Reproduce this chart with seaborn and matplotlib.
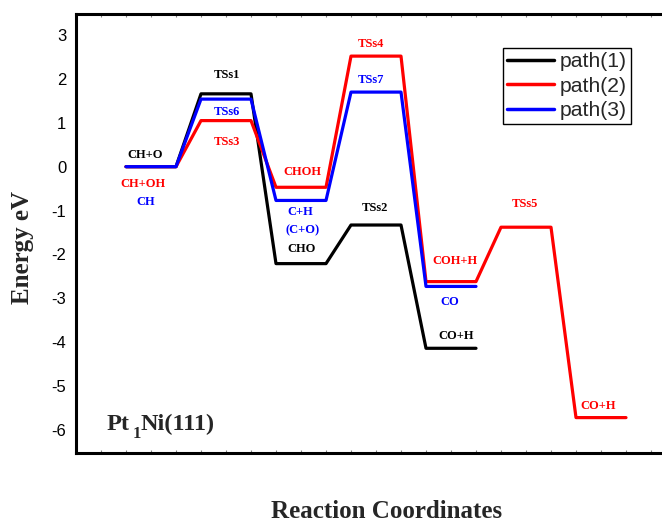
import pandas as pd
import seaborn as sns
import matplotlib.pyplot as plt

# energy of every level (eV), in order along the reaction coordinate
paths = ['path(1)', 'path(2)', 'path(3)']
energy_path1 = [0.0, 1.66, -2.21, -1.33, -4.14]
energy_path2 = [0.0, 1.05, -0.47, 2.52, -2.62, -1.38, -5.72]
energy_path3 = [0.0, 1.54, -0.77, 1.70, -2.73]
path_colors = ['black', 'red', 'blue']

# species / transition-state labels: text, colour, x, y (data coords)
label_text = ['CH+O', 'CH+OH', 'CH', 'TSs1', 'TSs6', 'TSs3', 'CHOH', 'C+H', '(C+O)',
              'CHO', 'TSs4', 'TSs7', 'TSs2', 'TSs5', 'COH+H', 'CO', 'CO+H', 'CO+H']
label_color = ['black', 'red', 'blue', 'black', 'blue', 'red', 'red', 'blue', 'blue',
               'black', 'red', 'blue', 'black', 'red', 'red', 'blue', 'black', 'red']
label_x = [2.76, 2.68, 2.8, 6.04, 6.04, 6.04, 9.04, 8.96, 9.08,
           9.04, 11.8, 11.8, 11.96, 17.96, 15.16, 14.96, 15.2, 20.88]
label_y = [0.27, -0.39, -0.80, 2.09, 1.25, 0.56, -0.12, -1.03, -1.44,
           -1.87, 2.80, 1.98, -0.94, -0.85, -2.15, -3.08, -3.85, -5.45]

rows = []
for name, energies in zip(paths, [energy_path1, energy_path2, energy_path3]):
    for i, e in enumerate(energies):
        rows.append((name, 2 + 3 * i, e))
        rows.append((name, 4 + 3 * i, e))
df = pd.DataFrame(rows, columns=['path', 'x', 'energy'])

sns.set_style('white')
plt.rcParams['font.family'] = ['Liberation Sans', 'DejaVu Sans']
plt.rcParams['axes.unicode_minus'] = False

fig = plt.figure(figsize=(6.62, 5.25), dpi=100)
ax = fig.add_axes([76 / 662, 1 - 452.7 / 525, 586 / 662, 438.7 / 525])

sns.lineplot(data=df, x='x', y='energy', hue='path', hue_order=paths,
             palette=path_colors, sort=False, estimator=None, linewidth=2.3, ax=ax)

ax.set_xlim(0, 23.44)
ax.set_ylim(-6.52, 3.48)
ax.set_yticks(range(-6, 4))
ax.set_xticks(range(0, 24))
ax.set_xticklabels([])
ax.set_xlabel('')
ax.set_ylabel('')
ax.tick_params(axis='x', direction='in', length=2.5, width=0.8, colors='gray',
               top=True, bottom=True, labelbottom=False)
ax.tick_params(axis='y', length=0, pad=7, labelsize=12, labelcolor='black')

for side in ['left', 'top', 'bottom']:
    ax.spines[side].set_linewidth(2.2)
    ax.spines[side].set_color('black')
ax.spines['right'].set_visible(False)

for t, c, x, y in zip(label_text, label_color, label_x, label_y):
    ax.text(x, y, t, color=c, fontsize=9, fontweight='bold', family='Liberation Serif',
            ha='center', va='center')

# Pt1Ni(111) with a lowered subscript
ax.text(1.24, -5.88, 'Pt', fontsize=17.5, fontweight='bold',
        family='Liberation Serif', ha='left', va='center')
ax.text(2.27, -6.1, '1', fontsize=12, fontweight='bold',
        family='Liberation Serif', ha='left', va='center')
ax.text(2.6, -5.88, 'Ni(111)', fontsize=17.5, fontweight='bold',
        family='Liberation Serif', ha='left', va='center')

fig.text(22 / 662, 1 - 247 / 525, 'Energy eV', rotation=90, fontsize=18,
         fontweight='bold', family='Liberation Serif', ha='center', va='center')
fig.text(386.5 / 662, 1 - 512 / 525, 'Reaction Coordinates', fontsize=18,
         fontweight='bold', family='Liberation Serif', ha='center', va='center')

handles, labels = ax.get_legend_handles_labels()
leg = ax.legend(handles, labels, loc='upper left', bbox_to_anchor=(503 / 662, 1 - 48 / 525),
                bbox_transform=fig.transFigure, fontsize=15.2, handlelength=2.2,
                handletextpad=0.3, borderpad=0.2, labelspacing=0.26, borderaxespad=0,
                fancybox=False, framealpha=1, edgecolor='black')
leg.get_frame().set_linewidth(1.0)
for line in leg.get_lines():
    line.set_linewidth(2.5)

fig.savefig('out.png', dpi=100)
